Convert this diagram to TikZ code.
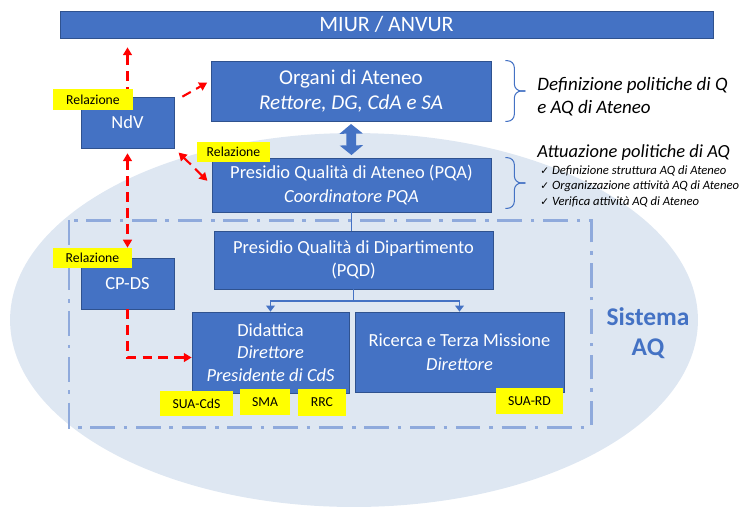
\documentclass[tikz,border=0pt]{standalone}
\usepackage{fontspec}
\setmainfont{Carlito}
\newfontfamily\symfont{DejaVu Sans}
\usetikzlibrary{arrows.meta,calc}
\definecolor{boxblue}{HTML}{4472C4}
\definecolor{boxedge}{HTML}{2F528F}
\definecolor{areablue}{HTML}{DEE7F2}
\definecolor{framegray}{HTML}{8FAADC}
\definecolor{notey}{HTML}{FFFF00}

\begin{document}
\begin{tikzpicture}[x=0.02cm, y=-0.02cm]
    \tikzstyle{box} = [rectangle, draw=boxedge, fill=boxblue, text=white, align=center, inner sep=1pt, font=\fontsize{10.5}{13.5}\selectfont]
    \tikzstyle{note} = [rectangle, fill=notey, text=black, inner sep=0pt, font=\fontsize{7.8}{9}\selectfont]
    \tikzstyle{rel} = [red, line width=1.2pt, dash pattern=on 5.5pt off 3.5pt]
    \tikzstyle{link} = [boxblue, line width=1pt]
    \tikzstyle{brace} = [boxblue, line width=0.6pt, rounded corners=4pt]
    \useasboundingbox (0,0) rectangle (746,508);

    % area of the Sistema AQ
    \fill[areablue] (354,320) ellipse [x radius=6.88cm, y radius=3.74cm];
    \draw[framegray, line width=1.7pt, dash pattern=on 14pt off 5pt on 2pt off 5pt] (69,220) rectangle (591,427);

    % boxes
    \node[box, minimum width=13.06cm, minimum height=0.54cm, font=\fontsize{12.5}{14}\selectfont] (miur) at (386.5,24.5) {MIUR / ANVUR};
    \node[box, minimum width=5.6cm, minimum height=1.2cm, font=\fontsize{12}{14.7}\selectfont] (organi) at (351,91) {Organi di Ateneo\\\textit{Rettore, DG, CdA e SA}};
    \node[box, minimum width=1.86cm, minimum height=1.02cm] (ndv) at (127.5,122.5) {NdV};
    \node[box, minimum width=5.58cm, minimum height=1.08cm] (pqa) at (351.5,185) {Presidio Qualità di Ateneo (PQA)\\\textit{Coordinatore PQA}};
    \node[box, minimum width=5.58cm, minimum height=1.16cm] (pqd) at (353.5,260) {Presidio Qualità di Dipartimento\\(PQD)};
    \node[box, minimum width=1.86cm, minimum height=1.02cm] (cpds) at (127.5,283.5) {CP-DS};
    \node[box, minimum width=3.14cm, minimum height=1.62cm, font=\fontsize{10.5}{12.8}\selectfont] (did) at (270.5,352.5) {Didattica\\\textit{Direttore}\\\textit{Presidente di CdS}};
    \node[box, minimum width=4.18cm, minimum height=1.6cm] (ric) at (459.5,352) {Ricerca e Terza Missione\\\textit{Direttore}};

    % blue links
    \draw[boxblue, line width=5.5pt, {Triangle[width=13pt,length=5.5pt]}-{Triangle[width=13pt,length=5.5pt]}, shorten <=1.5pt, shorten >=1.5pt] (organi.south) -- (pqa.north);
    \draw[link] (pqa.south) -- (pqa.south |- pqd.north);
    \draw[link, -{Triangle[width=5pt,length=3.5pt]}] (pqd.south) -- ++(0,12) -| (did.north);
    \draw[link, -{Triangle[width=5pt,length=3.5pt]}] (pqd.south) -- ++(0,12) -| (ric.north);

    % relazioni
    \draw[rel, -{Triangle[width=5pt,length=4.5pt]}, shorten >=5.1pt] (ndv.north) -- (ndv.north |- miur.south);
    \draw[rel, -{Triangle[width=5pt,length=4.5pt]}, shorten >=2.3pt] ($(ndv.north east)+(8,0)$) -- ($(organi.north west)!0.33!(organi.south west)$);
    \draw[rel, {Triangle[width=5pt,length=4.5pt]}-{Triangle[width=5pt,length=4.5pt]}, shorten <=3.4pt, shorten >=3.4pt] (ndv.south east) -- (pqa.west);
    \draw[rel, {Triangle[width=5pt,length=4.5pt]}-{Triangle[width=5pt,length=4.5pt]}, shorten <=2.8pt, shorten >=5.7pt] (ndv.south) -- (cpds.north);
    \draw[rel, -{Triangle[width=5pt,length=4.5pt]}] (cpds.south) |- ($(did.west)+(0,5)$);

    % stickers
    \node[note, minimum width=1.6cm, minimum height=0.42cm] (relA) at (93,99.5) {Relazione};
    \node[note, minimum width=1.46cm, minimum height=0.4cm] (relB) at (233.5,152) {Relazione};
    \node[note, minimum width=1.58cm, minimum height=0.4cm] (relC) at (92.5,258) {Relazione};
    \node[note, minimum width=1.46cm, minimum height=0.5cm] (suacds) at (196.5,403.5) {SUA-CdS};
    \node[note, minimum width=1.0cm, minimum height=0.52cm] (sma) at (265,402) {SMA};
    \node[note, minimum width=0.96cm, minimum height=0.54cm] (rrc) at (322,402.5) {RRC};
    \node[note, minimum width=1.34cm, minimum height=0.52cm] (suard) at (529.5,401) {SUA-RD};

    % braces and descriptions
    \draw[brace] ($(organi.north east)+(14,0)$) -| ($(organi.east)+(23,0)$) -- ($(organi.east)+(34,0)$);
    \draw[brace] ($(organi.south east)+(14,0)$) -| ($(organi.east)+(23,0)$) -- ($(organi.east)+(34,0)$);
    \draw[brace] ($(pqa.north east)+(14,0)$) -| ($(pqa.east)+(23,-2)$) -- ($(pqa.east)+(34,-2)$);
    \draw[brace] ($(pqa.south east)+(14,-4)$) -| ($(pqa.east)+(23,-2)$) -- ($(pqa.east)+(34,-2)$);
    \node[anchor=west, inner sep=0pt, align=left, font=\fontsize{10.8}{13}\selectfont\itshape] (defq) at (537,97) {Definizione politiche di Q\\e AQ di Ateneo};
    \node[anchor=west, inner sep=0pt, font=\fontsize{10.5}{12}\selectfont\itshape] (attq) at (537,153) {Attuazione politiche di AQ};
    \node[anchor=north west, inner sep=0pt, align=left, font=\fontsize{7.2}{8.8}\selectfont\itshape] (attlist) at (540,165) {{\symfont\upshape\fontsize{6}{8}\selectfont ✓} Definizione struttura AQ di Ateneo\\{\symfont\upshape\fontsize{6}{8}\selectfont ✓} Organizzazione attività AQ di Ateneo\\{\symfont\upshape\fontsize{6}{8}\selectfont ✓} Verifica attività AQ di Ateneo};
    \node[text=boxblue, align=center, font=\fontsize{14.5}{17}\selectfont\bfseries] (sis) at (648,333) {Sistema\\AQ};
\end{tikzpicture}
\end{document}
